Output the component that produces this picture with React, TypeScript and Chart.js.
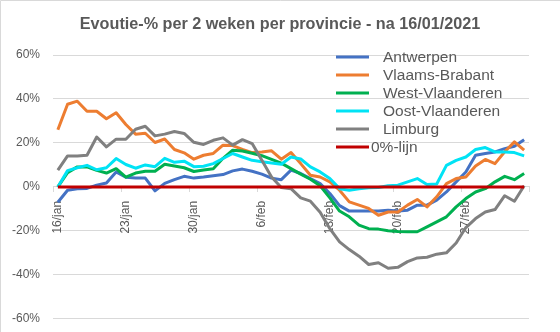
import React, { useEffect, useRef } from "react";
import { Chart, registerables } from "chart.js";

Chart.register(...registerables);

const dates = [
  "16/jan", "17/jan", "18/jan", "19/jan", "20/jan", "21/jan", "22/jan", "23/jan", "24/jan", "25/jan",
  "26/jan", "27/jan", "28/jan", "29/jan", "30/jan", "31/jan", "1/feb", "2/feb", "3/feb", "4/feb",
  "5/feb", "6/feb", "7/feb", "8/feb", "9/feb", "10/feb", "11/feb", "12/feb", "13/feb", "14/feb",
  "15/feb", "16/feb", "17/feb", "18/feb", "19/feb", "20/feb", "21/feb", "22/feb", "23/feb", "24/feb",
  "25/feb", "26/feb", "27/feb", "28/feb", "1/mar", "2/mar", "3/mar", "4/mar", "5/mar",
];

const antwerpen = [-7, -1.5, -0.8, -0.7, 0.8, 1.8, 6.8, 4.4, 4, 4, -1.8, 1.6, 3.3, 4.8, 4, 4.5, 5.1, 5.6, 7.3, 8.1, 7.1, 5.8, 4, 3.3, 7.6, 6.1, 3.8, 1.5, -3, -8.5, -11, -11, -11, -11, -10.6, -11, -10.6, -8.3, -8.3, -6, -2.3, 2.3, 6.8, 14.4, 15.2, 15.9, 17.4, 18.5, 21.5];
const vlaamsBrabant = [26, 37.6, 39, 34.4, 34.4, 31, 33.7, 28.4, 24, 24.4, 20.2, 21.8, 17, 15.5, 12.6, 14.4, 15.2, 19, 18.8, 17.1, 15.6, 15.9, 16.4, 12.6, 15.6, 10.6, 5.3, 4.5, 2.3, -1.5, -6.8, -8.3, -9.8, -12.9, -11.4, -11.4, -8.3, -5.7, -9.1, -4.5, 1.5, 3.8, 4.5, 9.5, 12.5, 10.6, 16, 20.5, 16.7];
const westVlaanderen = [0, 6.5, 9.1, 9.1, 7.5, 6.3, 8.3, 4.4, 6.3, 7.1, 7.1, 10.3, 9.5, 8.7, 7, 7.7, 8.3, 13, 16.7, 16.3, 15.3, 14.2, 12.5, 10.8, 8.3, 5.8, 3.5, 0.5, -5, -11, -13.6, -17.4, -19, -19.2, -19.9, -20.3, -20.4, -20.4, -18.2, -15.9, -13.6, -9.1, -5.3, -2.3, -0.8, 2.3, 4.8, 3.3, 6.1];
const oostVlaanderen = [0, 7.4, 8.7, 9.8, 7.8, 8.7, 12.9, 10.2, 8.5, 10, 9.2, 13, 11.2, 11.7, 9.2, 9.4, 10.6, 12.9, 15.2, 13.6, 12.1, 11.4, 10.9, 10.3, 13.6, 12.7, 9.1, 6.8, 3.8, -0.8, -1.5, -0.8, -0.4, -0.3, 0.5, 0.8, 2.3, 3.8, 1.1, 1.3, 9.8, 12.1, 13.6, 17, 17.9, 15.9, 15.9, 15.6, 14.1];
const limburg = [7.6, 14.1, 14.1, 14.4, 22.7, 18.2, 21.7, 21.7, 26.2, 27.6, 23.2, 24, 25.2, 24.3, 20.3, 19.3, 21.2, 22.3, 19, 21.5, 19.7, 12.1, 4.5, -0.3, -0.8, -5, -6.5, -11.5, -19, -25, -28.5, -31.5, -35.3, -34.5, -37, -36.6, -34, -32.3, -32, -30.6, -30, -25.5, -18.5, -14.4, -11.4, -10.3, -4, -6.5, 0.5];
const nulLijn = [0, 0, 0, 0, 0, 0, 0, 0, 0, 0, 0, 0, 0, 0, 0, 0, 0, 0, 0, 0, 0, 0, 0, 0, 0, 0, 0, 0, 0, 0, 0, 0, 0, 0, 0, 0, 0, 0, 0, 0, 0, 0, 0, 0, 0, 0, 0, 0, 0];

const seriesNames = ["Antwerpen", "Vlaams-Brabant", "West-Vlaanderen", "Oost-Vlaanderen", "Limburg", "0%-lijn"];
const seriesColors = ["#4472C4", "#ED7D31", "#00B050", "#00E3F5", "#808080", "#C00000"];
const seriesData = [antwerpen, vlaamsBrabant, westVlaanderen, oostVlaanderen, limburg, nulLijn];

const yTicks = [-60, -40, -20, 0, 20, 40, 60];
const titleText = "Evoutie-% per 2 weken per provincie - na 16/01/2021";

const TEXT = "#595959";
const GRID = "#d9d9d9";

const decorPlugin = {
  id: "decor",
  afterDraw(chart: any) {
    const ctx = chart.ctx;
    ctx.save();
    ctx.strokeStyle = GRID;
    ctx.lineWidth = 1;
    ctx.beginPath();
    ctx.moveTo(0.5, 340);
    ctx.lineTo(0.5, 0.5);
    ctx.lineTo(560, 0.5);
    ctx.stroke();
    ctx.fillStyle = TEXT;
    ctx.font = "bold 16.2px 'Liberation Sans', Arial, sans-serif";
    ctx.textAlign = "center";
    ctx.textBaseline = "middle";
    ctx.fillText(titleText, 280, 25);
    ctx.font = "15.5px 'Liberation Sans', Arial, sans-serif";
    ctx.textAlign = "left";
    const rows = [57, 75, 93, 111, 129, 147];
    for (let i = 0; i < seriesNames.length; i++) {
      const y = rows[i];
      ctx.strokeStyle = seriesColors[i];
      ctx.lineWidth = 3;
      ctx.beginPath();
      ctx.moveTo(336, y);
      ctx.lineTo(369, y);
      ctx.stroke();
      ctx.fillStyle = TEXT;
      ctx.fillText(seriesNames[i], i === 5 ? 371 : 383, y + 1);
    }
    ctx.restore();
  },
};

export default function App() {
  const ref = useRef<HTMLCanvasElement>(null);
  useEffect(() => {
    document.body.style.margin = "0";
    const orders = [5, 4, 3, 2, 1, 0];
    const chart = new Chart(ref.current as HTMLCanvasElement, {
      type: "line",
      data: {
        labels: dates,
        datasets: seriesData.map((d, i) => ({
          label: seriesNames[i],
          data: d,
          borderColor: seriesColors[i],
          backgroundColor: seriesColors[i],
          borderWidth: 3,
          pointRadius: 0,
          tension: 0,
          borderJoinStyle: "round" as const,
          order: orders[i],
        })),
      },
      options: {
        responsive: false,
        animation: false,
        layout: { padding: { left: 0, right: 31, top: 55, bottom: 5 } },
        plugins: {
          legend: { display: false },
          title: { display: false },
          tooltip: { enabled: false },
        },
        scales: {
          x: {
            type: "category",
            offset: true,
            position: { y: 0 },
            border: { display: true, color: GRID, width: 1 },
            grid: {
              offset: true,
              drawOnChartArea: false,
              drawTicks: true,
              tickLength: 5,
              color: (c: any) =>
                c.index === undefined || c.index % 7 === 0 ? GRID : "rgba(0,0,0,0)",
            },
            ticks: {
              autoSkip: false,
              maxRotation: 90,
              minRotation: 90,
              padding: 9,
              color: TEXT,
              font: { family: "'Liberation Sans', Arial, sans-serif", size: 12 },
              callback: (_v: any, idx: number) => (idx % 7 === 0 ? dates[idx] : ""),
            },
          },
          y: {
            min: yTicks[0],
            max: yTicks[yTicks.length - 1],
            afterFit: (scale: any) => {
              scale.width = 53;
            },
            afterBuildTicks: (scale: any) => {
              scale.ticks = yTicks.map((v) => ({ value: v }));
            },
            border: { display: false },
            grid: { color: GRID, lineWidth: 1, drawTicks: false },
            ticks: {
              padding: 13,
              color: TEXT,
              font: { family: "'Liberation Sans', Arial, sans-serif", size: 12 },
              callback: (v: any) => v + "%",
            },
          },
        },
      },
      plugins: [decorPlugin],
    });
    return () => chart.destroy();
  }, []);
  return (
    <div style={{ width: 560, height: 332, overflow: "hidden", background: "#fff" }}>
      <canvas ref={ref} width={560} height={339} style={{ display: "block" }} />
    </div>
  );
}
